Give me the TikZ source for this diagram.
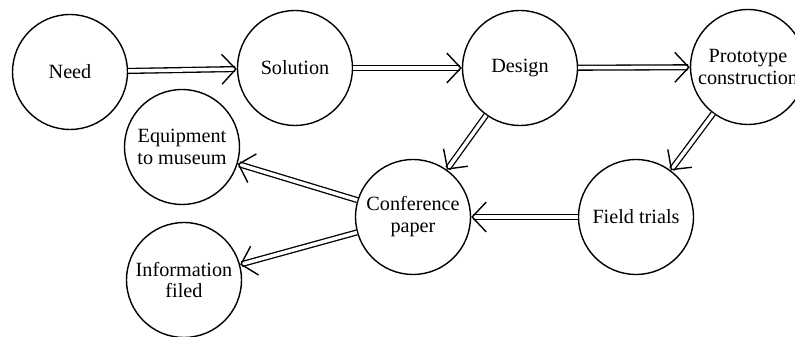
\documentclass[tikz,border=0pt]{standalone}
\usepackage{fontspec}
\setmainfont{Liberation Serif}
\usetikzlibrary{arrows.meta}

\begin{document}
\begin{tikzpicture}[x=0.02cm,y=-0.02cm,
  stage/.style={draw,circle,line width=0.8pt,minimum size=2.3cm,inner sep=0pt,align=center,font=\fontsize{11.5}{12.5}\selectfont},
  flow/.style={double,double distance=2pt,line width=0.75pt,-{Straight Barb[line width=0.8pt,length=8pt,width=17pt]}}]
  \useasboundingbox (0,0) rectangle (795,337);
  \node[stage] (need) at (70,72) {Need};
  \node[stage] (solution) at (295,68) {Solution};
  \node[stage] (design) at (520,68) {Design};
  \node[stage] (proto) at (748,67) {Prototype\\construction};
  \node[stage] (equip) at (182,147) {Equipment\\to museum};
  \node[stage] (conf) at (413,217) {Conference\\paper};
  \node[stage] (field) at (636,217) {Field trials};
  \node[stage] (info) at (184,280) {Information\\filed};
  \draw[flow] (need) -- (solution);
  \draw[flow] (solution) -- (design);
  \draw[flow] (design) -- (proto);
  \draw[flow] (proto) -- (field);
  \draw[flow] (design) -- (conf);
  \draw[flow] (field) -- (conf);
  \draw[flow] (conf) -- (equip);
  \draw[flow] (conf) -- (info);
\end{tikzpicture}
\end{document}
